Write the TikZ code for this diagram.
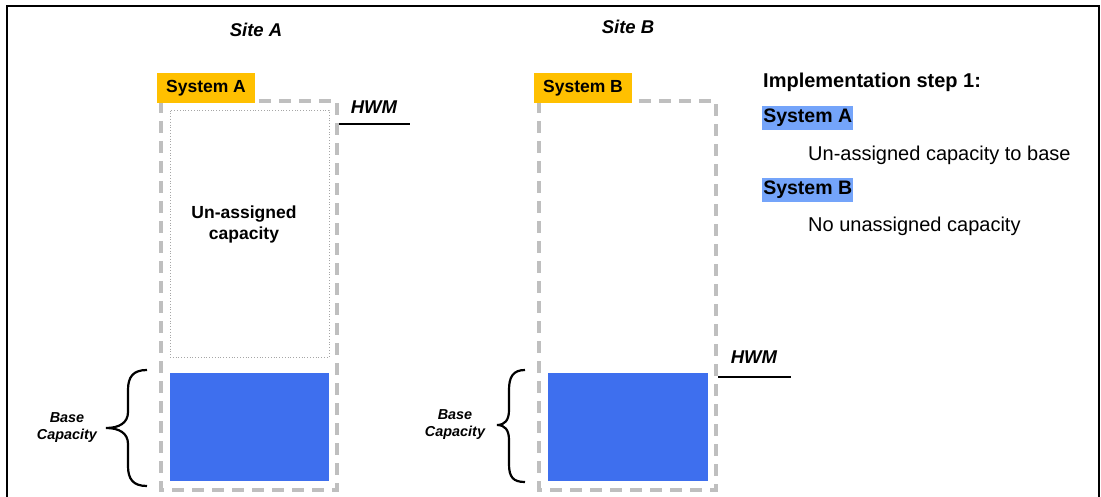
\documentclass[tikz,border=0pt]{standalone}
\usepackage{fontspec}
\setmainfont{Liberation Sans}
\definecolor{sysorange}{HTML}{FFC000}
\definecolor{capblue}{HTML}{3E6FEE}
\definecolor{hlblue}{HTML}{74A4FA}
\definecolor{dashgray}{HTML}{BFBFBF}
\begin{document}
\begin{tikzpicture}[x=1pt,y=-1pt,
  sitelabel/.style={font=\fontsize{18.5}{22}\selectfont\bfseries\itshape, inner sep=0pt},
  systag/.style={fill=sysorange, font=\fontsize{17.5}{20}\selectfont\bfseries, inner sep=0pt, minimum width=98pt, minimum height=30pt},
  sysbox/.style={draw=dashgray, line width=4pt, dash pattern=on 12pt off 8pt},
  unassigned/.style={draw=gray!70, line width=0.8pt, dotted},
  basecap/.style={fill=capblue},
  hwmtext/.style={font=\fontsize{18.5}{22}\selectfont\bfseries\itshape, inner sep=0pt},
  hwmline/.style={line width=2pt},
  bracelabel/.style={font=\fontsize{14.4}{17}\selectfont\bfseries\itshape, align=center, inner sep=0pt},
  bracepath/.style={line width=2.2pt},
  steptext/.style={font=\fontsize{20}{24}\selectfont, anchor=west, inner sep=0pt},
  hltext/.style={font=\fontsize{19.5}{23}\selectfont\bfseries, anchor=west, fill=hlblue, inner xsep=1pt, inner ysep=3pt, minimum width=91pt, minimum height=24pt}
]
\useasboundingbox (0,0) rectangle (1101,497);
% frame
\draw[line width=2pt] (7,497) -- (7,6) -- (1099,6) -- (1099,497);

% Site labels
\node[sitelabel] (siteA) at (256,30) {Site A};
\node[sitelabel] (siteB) at (628,27) {Site B};

% System A
\draw[sysbox] (161,101) rectangle (337,490);
\node[unassigned, minimum width=159pt, minimum height=247pt, inner sep=0pt] (unA) at (249.5,233.5) {};
\node[font=\fontsize{17.5}{21}\selectfont\bfseries, align=center] (unAtext) at (244,224) {Un-assigned\\capacity};
\node[basecap, minimum width=159pt, minimum height=108pt, inner sep=0pt] (baseA) at (249.5,427) {};
\node[systag] (tagA) at (206,88) {System A};
\coordinate (hwmAs) at (339,124);
\coordinate (hwmAe) at (410,124);
\draw[hwmline] (hwmAs) -- (hwmAe);
\node[hwmtext] (hwmA) at (374,107) {HWM};
\draw[bracepath] (147,370) .. controls (133,370) and (128,377) .. (128,390) -- (128,412) .. controls (128,423) and (119,428) .. (106,428) .. controls (119,428) and (128,433) .. (128,444) -- (128,466) .. controls (128,479) and (133,486) .. (147,486);
\node[bracelabel] (bcA) at (67,428) {Base\\Capacity};

% System B
\draw[sysbox] (539,101) rectangle (716,490);
\node[basecap, minimum width=160pt, minimum height=108pt, inner sep=0pt] (baseB) at (628,427) {};
\node[systag] (tagB) at (583,88) {System B};
\coordinate (hwmBs) at (718,377);
\coordinate (hwmBe) at (791,377);
\draw[hwmline] (hwmBs) -- (hwmBe);
\node[hwmtext] (hwmB) at (754,357) {HWM};
\draw[bracepath] (525,370) .. controls (513,370) and (509,377) .. (509,390) -- (509,410) .. controls (509,420) and (505,425) .. (497,425) .. controls (505,425) and (509,430) .. (509,440) -- (509,464) .. controls (509,477) and (513,482) .. (525,482);
\node[bracelabel] (bcB) at (455,425) {Base\\Capacity};

% Right-hand text
\node[steptext, font=\fontsize{20}{24}\selectfont\bfseries] (impl) at (763,82) {Implementation step 1:};
\node[hltext] (hlA) at (762,118) {System A};
\node[steptext] (txtA) at (808,155) {Un-assigned capacity to base};
\node[hltext] (hlB) at (762,190) {System B};
\node[steptext] (txtB) at (808,226) {No unassigned capacity};
\end{tikzpicture}
\end{document}
